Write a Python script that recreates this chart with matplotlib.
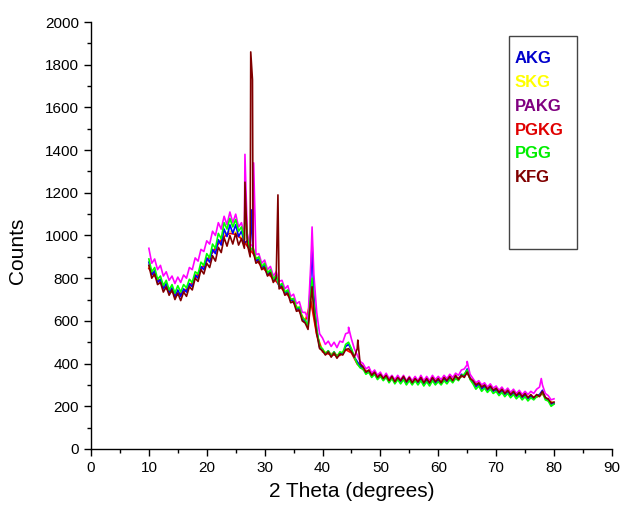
import numpy as np
import matplotlib.pyplot as plt
from matplotlib.patches import Rectangle
from matplotlib.ticker import MultipleLocator

plt.rcParams['font.family'] = ['Liberation Sans', 'DejaVu Sans']

# 2-theta grid, 0.5 deg steps from 10 to 80
theta = np.arange(10.0, 80.01, 0.5)
# coarse 1 deg grid for the two traces that sit underneath the others
theta_c = np.arange(10.0, 80.01, 1.0)

kfg = [860, 800, 820, 770, 780, 735, 760, 720, 745, 700,
       730, 695, 735, 715, 760, 745, 800, 785, 840, 820,
       870, 850, 905, 880, 945, 920, 990, 950, 1000, 960,
       1010, 955, 985, 940, 960, 900, 930, 870, 880, 840,
       850, 810, 825, 780, 800, 750, 760, 720, 730, 685,
       690, 645, 650, 600, 590, 560, 700, 640, 540, 470,
       460, 440, 455, 430, 450, 425, 445, 440, 465, 470,
       455, 430, 470, 400, 385, 360, 370, 345, 360, 335,
       350, 330, 345, 320, 340, 315, 335, 320, 340, 315,
       335, 310, 330, 315, 335, 310, 330, 310, 335, 315,
       330, 310, 335, 320, 340, 320, 345, 325, 345, 335,
       360, 330, 320, 300, 310, 290, 300, 280, 295, 275,
       285, 265, 280, 260, 275, 255, 270, 250, 265, 245,
       260, 240, 255, 240, 255, 245, 270, 240, 235, 215,
       220]
pakg = [940, 870, 890, 840, 860, 810, 830, 790, 810, 775,
        805, 780, 815, 800, 850, 840, 895, 880, 935, 925,
        975, 960, 1020, 1000, 1060, 1030, 1090, 1050, 1110, 1060,
        1100, 1040, 1060, 1000, 1010, 950, 960, 910, 915, 870,
        885, 840, 855, 810, 830, 785, 790, 750, 765, 715,
        725, 680, 690, 640, 640, 610, 880, 820, 640, 540,
        520, 490, 505, 480, 500, 475, 505, 500, 540, 545,
        515, 470, 440, 410, 400, 375, 385, 355, 370, 345,
        360, 335, 355, 330, 345, 325, 345, 325, 345, 320,
        340, 320, 340, 320, 345, 320, 340, 320, 345, 325,
        340, 325, 345, 330, 350, 335, 355, 345, 370, 375,
        395, 350, 330, 310, 320, 300, 310, 290, 305, 285,
        295, 275, 290, 270, 285, 265, 280, 260, 275, 255,
        270, 255, 270, 260, 280, 290, 300, 260, 250, 230,
        235]
pgg = [890, 830, 850, 795, 810, 765, 790, 745, 770, 730,
       765, 735, 770, 755, 795, 780, 830, 820, 875, 860,
       915, 895, 960, 940, 1010, 985, 1060, 1030, 1080, 1040,
       1075, 1020, 1040, 980, 990, 930, 945, 890, 900, 855,
       870, 825, 840, 795, 815, 765, 775, 735, 745, 700,
       705, 660, 665, 615, 605, 575, 740, 680, 560, 480,
       470, 445, 460, 435, 455, 430, 455, 450, 490, 500,
       470, 430, 400, 380, 375, 350, 360, 335, 350, 325,
       340, 320, 335, 310, 330, 305, 325, 305, 325, 300,
       320, 300, 320, 300, 320, 295, 315, 295, 320, 300,
       315, 300, 320, 305, 325, 310, 330, 320, 345, 350,
       370, 325, 305, 280, 295, 270, 285, 265, 280, 260,
       270, 250, 265, 245, 260, 240, 255, 235, 250, 230,
       245, 225, 240, 230, 245, 250, 265, 230, 225, 200,
       210]
akg = [875, 815, 835, 780, 795, 750, 775, 730, 755, 710,
       745, 715, 750, 735, 775, 760, 815, 800, 855, 840,
       895, 875, 935, 915, 980, 955, 1030, 995, 1050, 1010,
       1050, 995, 1020, 965, 975, 915, 940, 880, 890, 850,
       860, 815, 835, 790, 810, 760, 770, 730, 740, 695,
       700, 655, 660, 610, 600, 570, 820, 720, 560, 475,
       465, 445, 460, 435, 455, 430, 450, 445, 480, 490,
       465, 430, 410, 390, 380, 355, 365, 340, 355, 330,
       345, 325, 340, 315, 335, 310, 330, 315, 335, 305,
       330, 305, 325, 310, 330, 300, 325, 305, 330, 305,
       325, 305, 330, 315, 335, 315, 340, 325, 350, 345,
       375, 330, 315, 290, 305, 280, 295, 275, 290, 270,
       280, 260, 275, 255, 270, 250, 265, 245, 260, 240,
       255, 235, 250, 235, 250, 255, 275, 240, 230, 210,
       215]
skg = [850, 815, 785, 760, 740, 725, 740, 765, 805, 845,
       885, 925, 965, 1005, 1020, 1015, 990, 955, 920, 875,
       845, 815, 790, 755, 725, 690, 650, 600, 700, 540,
       460, 450, 445, 440, 470, 455, 400, 375, 360, 350,
       340, 335, 330, 325, 325, 320, 320, 320, 315, 320,
       318, 320, 325, 330, 340, 360, 310, 300, 290, 282,
       275, 270, 262, 258, 252, 248, 244, 245, 260, 228,
       215]
pgkg = [845, 810, 780, 750, 735, 720, 735, 760, 800, 840,
        880, 920, 960, 995, 1010, 1005, 985, 950, 915, 870,
        840, 810, 785, 750, 720, 685, 645, 595, 690, 535,
        455, 445, 440, 438, 465, 450, 398, 372, 358, 348,
        338, 333, 328, 323, 322, 318, 318, 318, 313, 318,
        316, 318, 322, 328, 338, 355, 308, 298, 288, 280,
        272, 268, 260, 255, 250, 246, 242, 243, 258, 226,
        212]

# sharp reflections
kfg_px, kfg_py = [26.6, 27.6, 27.9, 32.3, 38.2, 46.1], [1250, 1860, 1730, 1190, 760, 510]
pakg_px, pakg_py = [26.6, 28.1, 38.2, 44.5, 65.0, 77.8], [1380, 1340, 1040, 570, 410, 330]
pgg_px, pgg_py = [26.6, 38.2], [1150, 800]
akg_px, akg_py = [27.7, 38.2], [1120, 965]

names = ['AKG', 'SKG', 'PAKG', 'PGKG', 'PGG', 'KFG']
text_colors = ['#0000cc', '#ffff00', '#800080', '#e00000', '#00ee00', '#800000']


def with_peaks(x, y, px, py):
    xs = np.concatenate([x, px])
    ys = np.concatenate([np.asarray(y, float), py])
    order = np.argsort(xs, kind='stable')
    return xs[order], ys[order]


fig = plt.figure(figsize=(6.25, 5.13), dpi=100)
ax = fig.add_axes([0.1456, 0.1248, 0.8334, 0.8323])

lw = 1.2
ax.plot(theta_c, skg, color='#ffff00', lw=lw)
ax.plot(theta_c, pgkg, color='#ff0000', lw=lw)
ax.plot(*with_peaks(theta, akg, akg_px, akg_py), color='#0000ff', lw=lw)
ax.plot(*with_peaks(theta, pakg, pakg_px, pakg_py), color='#ff00ff', lw=lw)
ax.plot(*with_peaks(theta, pgg, pgg_px, pgg_py), color='#00ff00', lw=lw)
ax.plot(*with_peaks(theta, kfg, kfg_px, kfg_py), color='#800000', lw=lw)

ax.set_xlim(0, 90)
ax.set_ylim(0, 2000)
ax.xaxis.set_major_locator(MultipleLocator(10))
ax.xaxis.set_minor_locator(MultipleLocator(5))
ax.yaxis.set_major_locator(MultipleLocator(200))
ax.yaxis.set_minor_locator(MultipleLocator(100))
ax.tick_params(which='major', direction='out', length=5, width=1, labelsize=11)
ax.tick_params(which='minor', direction='out', length=3, width=1)
for s in ['top', 'right']:
    ax.spines[s].set_visible(False)
for s in ['left', 'bottom']:
    ax.spines[s].set_linewidth(1)
ax.set_xlabel('2 Theta (degrees)', fontsize=15, labelpad=5)
ax.set_ylabel('Counts', fontsize=15)
ax.yaxis.set_label_coords(-0.123, 0.464)

# legend box, text only
ax.add_patch(Rectangle((0.802, 0.468), 0.131, 0.499, transform=ax.transAxes,
                       fill=False, edgecolor='#444444', lw=1, clip_on=False))
for i, (n, c) in enumerate(zip(names, text_colors)):
    ax.text(0.813, 0.915 - i * 0.056, n, transform=ax.transAxes, color=c,
            fontsize=12, fontweight='bold', va='center', ha='left')

fig.savefig('out.png', dpi=100)
